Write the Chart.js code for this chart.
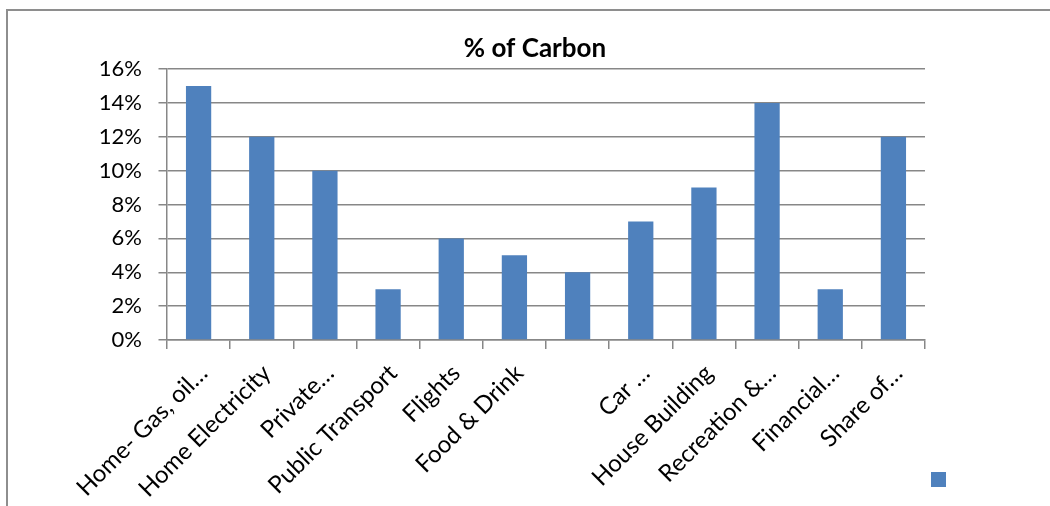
<!DOCTYPE html>
<html>
<head>
<meta charset="utf-8">
<script src="https://cdn.jsdelivr.net/npm/chart.js@4/dist/chart.umd.min.js"></script>
<style>
  html, body { margin: 0; padding: 0; background: #fff; overflow: hidden; }
  #wrap { position: relative; width: 1050px; height: 506px; }
  #frame {
    position: absolute; left: 6px; top: 9px; width: 2000px; height: 2000px;
    border-top: 2px solid #8e8e8e; border-left: 2px solid #8e8e8e;
    pointer-events: none;
  }
  canvas { position: absolute; left: 0; top: 0; }
</style>
</head>
<body>
<div id="wrap">
  <canvas id="c" width="1050" height="506"></canvas>
  <div id="frame"></div>
</div>
<script>
// Share of carbon footprint by spending area (percent)
const categories = [
  'Home- Gas, oil\u2026', 'Home Electricity', 'Private\u2026', 'Public Transport',
  'Flights', 'Food & Drink', '', 'Car \u2026', 'House Building',
  'Recreation &\u2026', 'Financial\u2026', 'Share of\u2026'
];
const carbonShare = [15, 12, 10, 3, 6, 5, 4, 7, 9, 14, 3, 12];
const yTicks = [0, 2, 4, 6, 8, 10, 12, 14, 16];

const axisGray = '#878787';
const barBlue = '#4F81BD';

new Chart(document.getElementById('c'), {
  type: 'bar',
  data: {
    labels: categories,
    datasets: [{
      label: '',
      data: carbonShare,
      backgroundColor: barBlue,
      borderWidth: 0,
      categoryPercentage: 1.0,
      barPercentage: 0.4
    }]
  },
  options: {
    responsive: false,
    animation: false,
    devicePixelRatio: 1,
    layout: { padding: { left: 95, right: 75, top: 0, bottom: 1.5 } },
    plugins: {
      title: {
        display: true,
        text: '% of Carbon',
        color: '#000',
        font: { family: 'Lato', size: 26, weight: 'bold', lineHeight: 1.2 },
        padding: { top: 33.4, bottom: 4.4 }
      },
      legend: {
        display: true,
        position: 'right',
        align: 'end',
        labels: {
          boxWidth: 15,
          boxHeight: 15,
          padding: 6,
          font: { family: 'Lato', size: 38 },
          color: '#000'
        }
      },
      tooltip: { enabled: false }
    },
    scales: {
      x: {
        offset: true,
        grid: {
          offset: true,
          drawOnChartArea: false,
          drawTicks: true,
          tickLength: 9,
          color: axisGray,
          lineWidth: 1.5
        },
        border: { color: axisGray, width: 1.5 },
        ticks: {
          autoSkip: false,
          maxRotation: 45,
          minRotation: 45,
          padding: 10,
          labelOffset: 5,
          color: '#000',
          font: { family: 'Lato', size: 24 }
        },
        afterFit: (scale) => { scale.height = 164.5; }
      },
      y: {
        min: 0,
        max: 16,
        afterBuildTicks: (scale) => { scale.ticks = yTicks.map(v => ({ value: v })); },
        grid: {
          color: axisGray,
          lineWidth: 1.5,
          tickLength: 8.5
        },
        border: { color: axisGray, width: 1.5 },
        ticks: {
          padding: 16.5,
          color: '#000',
          font: { family: 'Lato', size: 22 },
          callback: (v) => v + '%'
        },
        afterFit: (scale) => { scale.width = 72; }
      }
    }
  }
});
</script>
</body>
</html>
